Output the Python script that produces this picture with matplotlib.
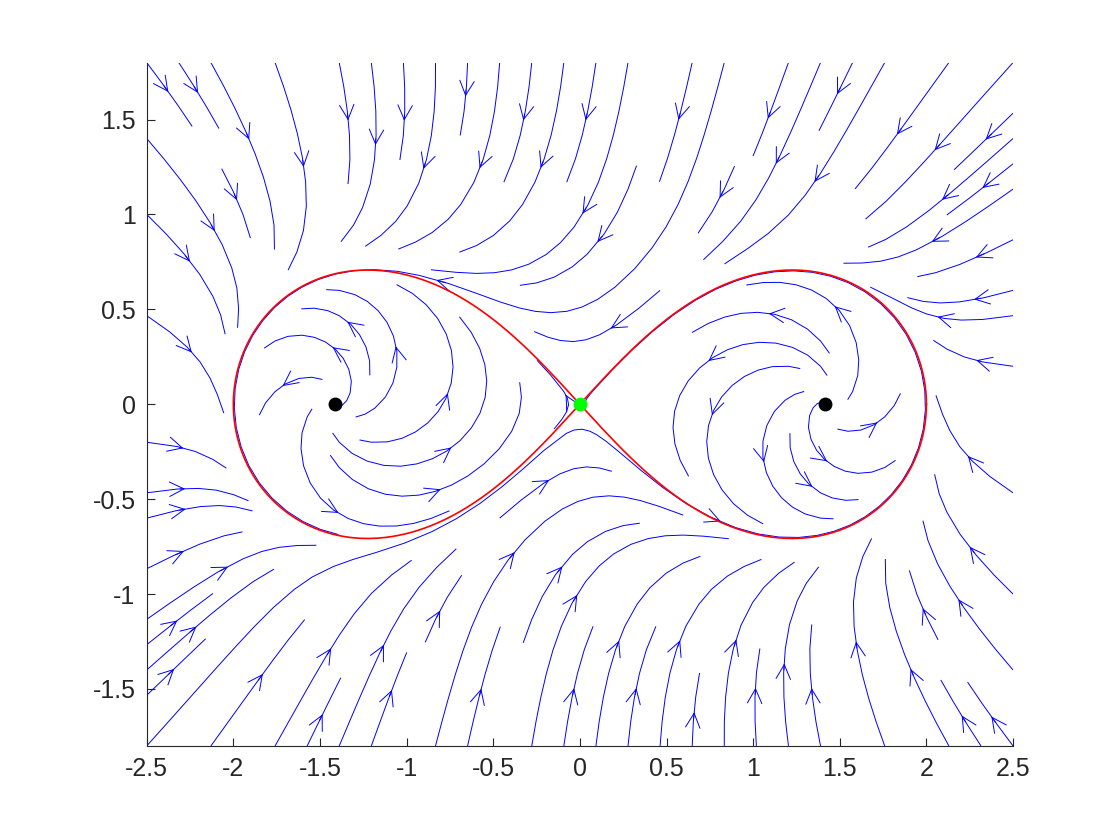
"""Phase portrait with the lemniscate as attracting invariant curve."""

import numpy as np
import matplotlib.pyplot as plt

# lemniscate (x^2+y^2)^2 = a^2 (x^2 - y^2), pulled in with strength mu
a = 2.0
mu = 0.3

x_range = [-2.5, 2.5]
y_range = [-1.8, 1.8]
x_ticks = [-2.5, -2, -1.5, -1, -0.5, 0, 0.5, 1, 1.5, 2, 2.5]
y_ticks = [-1.5, -1, -0.5, 0, 0.5, 1, 1.5]

# equilibria: two unstable foci and the saddle
foci_x = [-1.4142, 1.4142]
foci_y = [0.0, 0.0]
saddle_x = [0.0]
saddle_y = [0.0]


def field(x, y):
    r2 = x**2 + y**2
    L = r2**2 - a**2 * (x**2 - y**2)
    Lx = 4 * x * r2 - 2 * a**2 * x
    Ly = 4 * y * r2 + 2 * a**2 * y
    u = -Ly - mu * L * Lx
    v = Lx - mu * L * Ly
    return u, v


def main():
    plt.rcParams["font.family"] = ["Liberation Sans", "DejaVu Sans"]
    plt.rcParams["axes.unicode_minus"] = False

    fig = plt.figure(figsize=(11.2, 8.4), dpi=100)
    ax = fig.add_axes([0.131, 0.112, 0.7735, 0.8135])

    xs = np.linspace(x_range[0], x_range[1], 200)
    ys = np.linspace(y_range[0], y_range[1], 160)
    X, Y = np.meshgrid(xs, ys)
    U, V = field(X, Y)
    ax.streamplot(X, Y, U, V, density=0.95, color="blue", linewidth=0.7,
                  arrowstyle="->", arrowsize=2.6)

    # the lemniscate itself
    t = np.linspace(0, 2 * np.pi, 800)
    lx = a * np.cos(t) / (1 + np.sin(t)**2)
    ly = a * np.sin(t) * np.cos(t) / (1 + np.sin(t)**2)
    ax.plot(lx, ly, color="red", linewidth=1.2)

    ax.plot(foci_x, foci_y, "o", color="black", markersize=9)
    ax.plot(saddle_x, saddle_y, "o", color=(0, 1, 0), markersize=9)

    ax.set_xlim(x_range)
    ax.set_ylim(y_range)
    ax.set_xticks(x_ticks)
    ax.set_yticks(y_ticks)
    ax.set_xticklabels([f"{v:g}" for v in x_ticks])
    ax.set_yticklabels([f"{v:g}" for v in y_ticks])
    ax.tick_params(direction="in", length=6, width=0.8, labelsize=18,
                   colors="0.15", pad=8)
    for side in ["top", "right"]:
        ax.spines[side].set_visible(False)
    for side in ["left", "bottom"]:
        ax.spines[side].set_color("0.15")

    fig.savefig("out.png", dpi=100)


if __name__ == "__main__":
    main()
